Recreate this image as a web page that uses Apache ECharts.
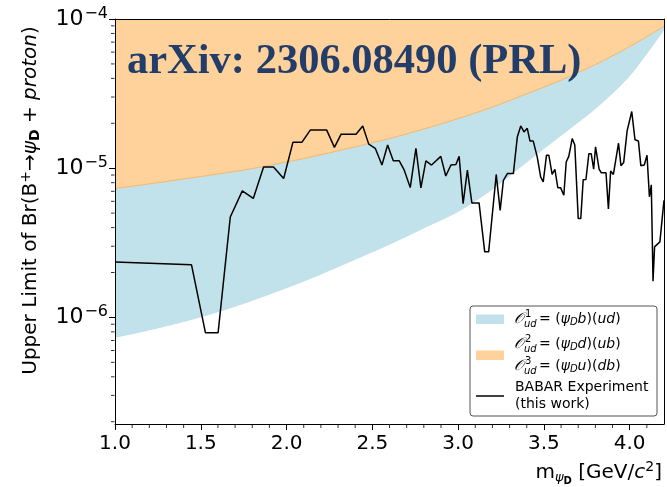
<!DOCTYPE html>
<html>
<head>
<meta charset="utf-8">
<title>Upper limit of Br(B+ to psi_D + proton)</title>
<script src="https://cdn.jsdelivr.net/npm/echarts@6.0.0/dist/echarts.min.js"></script>
<style>
    html, body { margin: 0; padding: 0; background: #fff; }
    #chart { width: 667px; height: 487px; }
</style>
</head>
<body>
<div id="chart"></div>
<script>
    // theory bands, sampled on a 0.2 GeV grid
    var bandMass = [1.0, 1.2, 1.4, 1.6, 1.8, 2.0, 2.2, 2.4, 2.6, 2.8, 3.0, 3.2, 3.4, 3.6, 3.8, 4.0, 4.2];
    var blueLower = [7.35e-7, 8.24e-7, 9.38e-7, 1.09e-6, 1.30e-6, 1.58e-6, 1.95e-6, 2.45e-6, 3.09e-6,
        3.98e-6, 5.13e-6, 7.24e-6, 1.10e-5, 1.66e-5, 2.51e-5, 4.17e-5, 8.51e-5];
    var orangeLower = [7.31e-6, 7.85e-6, 8.47e-6, 9.14e-6, 9.95e-6, 1.10e-5, 1.23e-5, 1.39e-5, 1.58e-5,
        1.83e-5, 2.15e-5, 2.57e-5, 3.15e-5, 3.89e-5, 4.95e-5, 6.53e-5, 8.91e-5];
    var orangeUpper = [1e-4, 1e-4, 1e-4, 1e-4, 1e-4, 1e-4, 1e-4, 1e-4, 1e-4,
        1e-4, 1e-4, 1e-4, 1e-4, 1e-4, 1e-4, 1e-4, 1e-4];

    // BABAR upper limit (this work)
    var babarMass = [1.00, 1.446, 1.527, 1.601, 1.672, 1.742, 1.806, 1.866, 1.924, 1.983,
        2.037, 2.089, 2.138, 2.234, 2.279, 2.318, 2.405, 2.444, 2.479, 2.517,
        2.556, 2.589, 2.622, 2.657, 2.686, 2.721, 2.754, 2.783, 2.812, 2.845,
        2.899, 2.928, 2.958, 2.987, 3.006, 3.029, 3.054, 3.080, 3.122, 3.155,
        3.178, 3.222, 3.245, 3.264, 3.287, 3.322, 3.345, 3.365, 3.384, 3.403,
        3.419, 3.438, 3.461, 3.481, 3.496, 3.515, 3.529, 3.548, 3.564, 3.581,
        3.597, 3.616, 3.630, 3.645, 3.665, 3.680, 3.700, 3.715, 3.729, 3.745,
        3.762, 3.776, 3.790, 3.801, 3.822, 3.835, 3.862, 3.876, 3.889, 3.905,
        3.935, 3.949, 3.965, 3.985, 3.995, 4.012, 4.031, 4.051, 4.065, 4.085,
        4.101, 4.115, 4.126, 4.136, 4.145, 4.176, 4.200];
    var babarLimit = [2.35e-6, 2.25e-6, 7.9e-7, 7.9e-7, 4.71e-6, 7.05e-6, 6.27e-6, 1.02e-5, 1.02e-5, 8.53e-6,
        1.49e-5, 1.49e-5, 1.80e-5, 1.80e-5, 1.38e-5, 1.69e-5, 1.69e-5, 1.92e-5, 1.45e-5, 1.36e-5,
        1.05e-5, 1.43e-5, 1.12e-5, 1.12e-5, 9.7e-6, 7.41e-6, 1.36e-5, 7.38e-6, 1.12e-5, 1.05e-5,
        1.2e-5, 8.87e-6, 1.05e-5, 1.06e-5, 1.2e-5, 5.79e-6, 9.7e-6, 5.85e-6, 5.85e-6, 2.75e-6,
        2.75e-6, 9.08e-6, 5.22e-6, 8.3e-6, 9.2e-6, 9.2e-6, 1.62e-5, 1.92e-5, 1.75e-5, 1.85e-5,
        1.52e-5, 1.52e-5, 1.19e-5, 8.75e-6, 8.1e-6, 1.22e-5, 1.22e-5, 9.08e-6, 9.84e-6, 7.41e-6,
        7.41e-6, 6.59e-6, 1.1e-5, 1.2e-5, 1.58e-5, 1.43e-5, 4.61e-6, 4.61e-6, 8.37e-6, 8.4e-6,
        1.25e-5, 1.25e-5, 9.84e-6, 1.39e-5, 9.84e-6, 9.31e-6, 9.31e-6, 5.33e-6, 9.57e-6, 9.08e-6,
        1.47e-5, 1.04e-5, 1.09e-5, 1.78e-5, 1.80e-5, 2.40e-5, 1.55e-5, 1.52e-5, 1.04e-5, 1.05e-5,
        1.22e-5, 6.43e-6, 7.74e-6, 1.75e-6, 2.97e-6, 3.21e-6, 6.1e-6];

    // ticks
    var xMin = 1.0, xMax = 4.2;
    var xMajorTicks = [1.0, 1.5, 2.0, 2.5, 3.0, 3.5, 4.0];
    var xMinorTicks = [1.1, 1.2, 1.3, 1.4, 1.6, 1.7, 1.8, 1.9, 2.1, 2.2, 2.3, 2.4, 2.6, 2.7, 2.8, 2.9,
        3.1, 3.2, 3.3, 3.4, 3.6, 3.7, 3.8, 3.9, 4.1];
    var yMin = 1.93e-7, yMax = 1e-4;
    var yMajorTicks = [1e-6, 1e-5, 1e-4];
    var yMinorTicks = [2e-7, 3e-7, 4e-7, 5e-7, 6e-7, 7e-7, 8e-7, 9e-7,
        2e-6, 3e-6, 4e-6, 5e-6, 6e-6, 7e-6, 8e-6, 9e-6,
        2e-5, 3e-5, 4e-5, 5e-5, 6e-5, 7e-5, 8e-5, 9e-5];

    var BLUE = '#c2e2eb';
    var ORANGE = '#fed29a';
    var FONT = 'DejaVu Sans';

    function zip(xs, ys) {
        return xs.map(function (x, i) { return [x, ys[i]]; });
    }

    var chart = echarts.init(document.getElementById('chart'));

    var mathRich = {
        i: { fontFamily: FONT, fontStyle: 'italic', fontSize: 14, color: '#000' },
        s: { fontFamily: FONT, fontStyle: 'italic', fontSize: 10, color: '#000', padding: [7, 0, 0, 0] }
    };

    // one legend label: calligraphic O with stacked super/subscript, then the rest
    function opLabel(y, sup, rest) {
        return [
            { type: 'text', x: 514, y: y, z: 101,
                style: { text: '𝒪', font: 'italic 15px "DejaVu Serif"', fill: '#000', verticalAlign: 'middle' } },
            { type: 'text', x: 525, y: y - 5, z: 101,
                style: { text: sup, font: '10px ' + FONT, fill: '#000', verticalAlign: 'middle' } },
            { type: 'text', x: 524, y: y + 5, z: 101,
                style: { text: 'ud', font: 'italic 10px ' + FONT, fill: '#000', verticalAlign: 'middle' } },
            { type: 'text', x: 539, y: y, z: 101,
                style: { text: rest, fontFamily: FONT, fontSize: 14, fill: '#000', verticalAlign: 'middle', rich: mathRich } }
        ];
    }

    var legendItems = [
        { type: 'rect', z: 100, shape: { x: 470, y: 306, width: 187, height: 110, r: 3 },
            style: { fill: 'rgba(255,255,255,0.85)', stroke: '#555', lineWidth: 1 } },
        { type: 'rect', z: 101, shape: { x: 476, y: 314.5, width: 28, height: 9.5 }, style: { fill: BLUE } },
        { type: 'rect', z: 101, shape: { x: 476, y: 350.5, width: 28, height: 9.5 }, style: { fill: ORANGE } },
        { type: 'line', z: 101, shape: { x1: 476, y1: 396, x2: 504, y2: 396 }, style: { stroke: '#000', lineWidth: 1.5 } },
        { type: 'text', x: 515, y: 387, z: 101,
            style: { text: 'BABAR Experiment', font: '14px ' + FONT, fill: '#000', verticalAlign: 'middle' } },
        { type: 'text', x: 515, y: 404, z: 101,
            style: { text: '(this work)', font: '14px ' + FONT, fill: '#000', verticalAlign: 'middle' } }
    ]
        .concat(opLabel(319, '1', '= ({i|ψ}{s|D}{i|b})({i|ud})'))
        .concat(opLabel(344, '2', '= ({i|ψ}{s|D}{i|d})({i|ub})'))
        .concat(opLabel(366, '3', '= ({i|ψ}{s|D}{i|u})({i|db})'));

    // frame edge on top / right
    function frameX() {
        return {
            type: 'value', min: xMin, max: xMax, position: 'top', z: 10,
            axisLine: { show: true, onZero: false, lineStyle: { color: '#000', width: 1 } },
            axisTick: { show: false }, axisLabel: { show: false }, splitLine: { show: false }
        };
    }
    function frameY() {
        return {
            type: 'log', logBase: 10, min: yMin, max: yMax, position: 'right', z: 10,
            axisLine: { show: true, onZero: false, lineStyle: { color: '#000', width: 1 } },
            axisTick: { show: false }, axisLabel: { show: false }, splitLine: { show: false }
        };
    }

    var option = {
        animation: false,
        backgroundColor: '#fff',
        grid: {
            left: 115,
            top: 19,
            right: 3,
            bottom: 63,
            containLabel: false,
            outerBoundsMode: 'none'
        },
        xAxis: [
            {
                type: 'value',
                min: xMin,
                max: xMax,
                position: 'bottom',
                z: 11,
                axisLine: { show: true, onZero: false, lineStyle: { color: '#000', width: 1 } },
                axisTick: { show: true, customValues: xMajorTicks, length: 6, lineStyle: { color: '#000', width: 1 } },
                axisLabel: {
                    customValues: xMajorTicks,
                    margin: 10,
                    fontFamily: FONT,
                    fontSize: 20,
                    color: '#000',
                    formatter: function (v) { return v.toFixed(1); }
                },
                splitLine: { show: false },
                name: 'm{gs|ψ}{bd|D} [GeV/{it|c}{sp|2}]',
                nameLocation: 'end',
                nameGap: -2,
                nameTextStyle: {
                    fontFamily: FONT,
                    fontSize: 20,
                    color: '#000',
                    align: 'right',
                    verticalAlign: 'top',
                    padding: [36, 0, 0, 0],
                    rich: {
                        gs: { fontFamily: FONT, fontStyle: 'italic', fontSize: 13, color: '#000', padding: [10, 0, 0, 0] },
                        bd: { fontFamily: FONT, fontWeight: 'bold', fontSize: 10, color: '#000', padding: [16, 0, 0, 0] },
                        it: { fontFamily: FONT, fontStyle: 'italic', fontSize: 20, color: '#000' },
                        sp: { fontFamily: FONT, fontSize: 14, color: '#000', padding: [0, 0, 12, 0] }
                    }
                }
            },
            frameX()
        ],
        yAxis: [
            {
                type: 'log',
                logBase: 10,
                min: yMin,
                max: yMax,
                position: 'left',
                z: 11,
                axisLine: { show: true, onZero: false, lineStyle: { color: '#000', width: 1 } },
                axisTick: { show: true, customValues: yMajorTicks, length: 6, lineStyle: { color: '#000', width: 1 } },
                axisLabel: {
                    customValues: yMajorTicks,
                    margin: 7,
                    formatter: function (v) {
                        var e = Math.round(Math.log(v) / Math.LN10);
                        return '{m|10}{e|−' + Math.abs(e) + '}';
                    },
                    rich: {
                        m: { fontFamily: FONT, fontSize: 22, color: '#000' },
                        e: { fontFamily: FONT, fontSize: 16, color: '#000', padding: [0, 0, 11, 1] }
                    }
                },
                splitLine: { show: false },
                name: 'Upper Limit of Br(B{sp|+}→{gi|ψ}{bd|D} + {it|proton})',
                nameLocation: 'middle',
                nameGap: 72,
                nameTextStyle: {
                    fontFamily: FONT,
                    fontSize: 20,
                    color: '#000',
                    padding: [0, 0, 0, 42],
                    rich: {
                        sp: { fontFamily: FONT, fontSize: 14, color: '#000', padding: [0, 0, 10, 0] },
                        gi: { fontFamily: FONT, fontStyle: 'italic', fontSize: 20, color: '#000' },
                        bd: { fontFamily: FONT, fontWeight: 'bold', fontSize: 14, color: '#000', padding: [9, 0, 0, 0] },
                        it: { fontFamily: FONT, fontStyle: 'italic', fontSize: 20, color: '#000' }
                    }
                }
            },
            frameY()
        ],
        series: [
            {
                // orange band: from its lower curve up to the top of the frame
                name: 'O2/O3',
                type: 'line',
                data: zip(bandMass, orangeUpper),
                xAxisIndex: 0,
                yAxisIndex: 0,
                symbol: 'none',
                lineStyle: { width: 0 },
                areaStyle: { color: ORANGE, opacity: 1, origin: 'start' },
                z: 1
            },
            {
                name: 'O1',
                type: 'line',
                data: zip(bandMass, orangeLower),
                xAxisIndex: 0,
                yAxisIndex: 0,
                symbol: 'none',
                smooth: 0.3,
                lineStyle: { color: '#f5b86c', width: 1 },
                areaStyle: { color: BLUE, opacity: 1, origin: 'start' },
                z: 2
            },
            {
                name: 'below',
                type: 'line',
                data: zip(bandMass, blueLower),
                xAxisIndex: 0,
                yAxisIndex: 0,
                symbol: 'none',
                smooth: 0.3,
                lineStyle: { color: '#bcdde8', width: 0.8 },
                areaStyle: { color: '#fff', opacity: 1, origin: 'start' },
                z: 3
            },
            {
                name: 'BABAR Experiment (this work)',
                type: 'line',
                data: zip(babarMass, babarLimit),
                xAxisIndex: 0,
                yAxisIndex: 0,
                symbol: 'none',
                lineStyle: { color: '#000', width: 1.5 },
                z: 4
            },
            {
                // minor ticks on the bottom edge
                name: 'xMinor',
                type: 'scatter',
                data: xMinorTicks.map(function (v) { return [v, yMin]; }),
                symbol: 'rect',
                symbolSize: [1, 3.5],
                symbolOffset: [0, 2.25],
                itemStyle: { color: '#000' },
                clip: false,
                silent: true,
                z: 12
            },
            {
                // minor ticks on the left edge
                name: 'yMinor',
                type: 'scatter',
                data: yMinorTicks.map(function (v) { return [xMin, v]; }),
                symbol: 'rect',
                symbolSize: [3.5, 1],
                symbolOffset: [-2.25, 0],
                itemStyle: { color: '#000' },
                clip: false,
                silent: true,
                z: 12
            }
        ],
        graphic: [
            {
                type: 'text',
                x: 127,
                y: 62,
                z: 50,
                style: {
                    text: 'arXiv: 2306.08490 (PRL)',
                    font: 'bold 42.5px "Liberation Serif"',
                    fill: '#233d6b',
                    verticalAlign: 'middle'
                }
            }
        ].concat(legendItems)
    };

    chart.setOption(option);
</script>
</body>
</html>
